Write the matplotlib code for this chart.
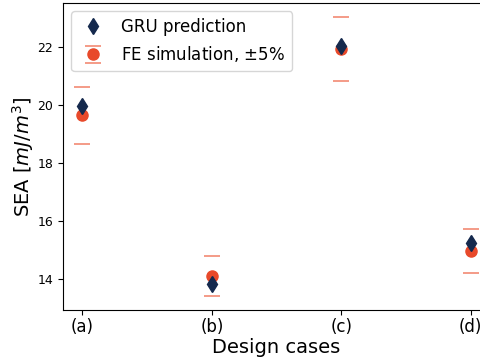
import numpy as np
import matplotlib.pyplot as plt

cases = ['(a)', '(b)', '(c)', '(d)']
gru_pred = [19.95, 13.83, 22.05, 15.24]
fe_sim = [19.65, 14.10, 21.93, 14.97]
tol = 0.05

x = np.arange(len(cases))
fe = np.array(fe_sim)

fig = plt.figure(figsize=(4.81, 3.6), dpi=100)
ax = fig.add_axes([0.131, 0.139, 0.888, 0.853])

ax.plot(x, gru_pred, 'd', color='#15294d', markersize=8, label='GRU prediction', zorder=3)
ax.errorbar(x, fe, yerr=fe * tol, fmt='o', color='#e8492a', markersize=8,
            ecolor='#f28a73', elinewidth=0, capsize=6, capthick=1.2,
            label='FE simulation, $\\pm$5%', zorder=2)

ax.set_xlim(-0.15, 3.15)
ax.set_ylim(12.93, 23.52)
ax.set_xticks(x)
ax.set_xticklabels(cases, fontsize=12)
ax.set_yticks([14, 16, 18, 20, 22])
ax.tick_params(axis='y', labelsize=9)
ax.tick_params(axis='x', pad=2)
ax.set_xlabel('Design cases', fontsize=14, labelpad=2)
ax.set_ylabel('SEA [$mJ/m^3$]', fontsize=14, labelpad=1)
ax.legend(loc='upper left', fontsize=12, handlelength=1.8)

fig.savefig('out.png', dpi=100)
